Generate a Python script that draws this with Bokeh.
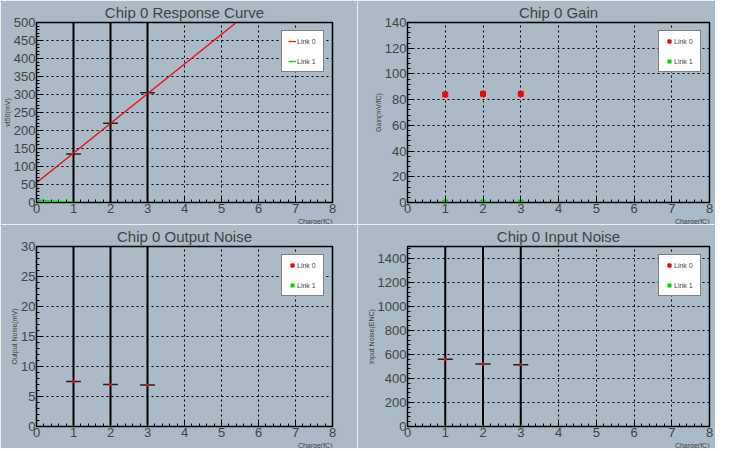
from bokeh.plotting import figure
from bokeh.layouts import gridplot
from bokeh.models import Legend, LegendItem, Range1d, FixedTicker, Title
from bokeh.embed import file_html
from bokeh.resources import INLINE

BG = "#aabac6"
charge = [1, 2, 3]
vt50 = [135, 220, 305]
fit_x = [0, 5.4]
fit_y = [55, 500]
link1_x = [0, 1.15]
link1_y = [6, 0]
gain = [84, 84.5, 84.5]
out_noise = [7.5, 7.0, 6.9]
in_noise = [560, 520, 515]
link1_zero = [0, 0, 0]
xerr = 0.2

def make(title, ylab, ymax, ystep, yticks_max, bl, br, w):
    p = figure(width=w, height=224, output_backend="svg", toolbar_location=None,
               x_range=Range1d(0, 8), y_range=Range1d(0, ymax),
               background_fill_color=BG, border_fill_color=BG,
               min_border_left=bl, min_border_right=br, min_border_top=4, min_border_bottom=14)
    p.title.text = title
    p.title.align = "center"
    p.title.text_font = "Liberation Sans"
    p.title.text_font_size = "15px"
    p.title.text_font_style = "normal"
    p.title.standoff = 3
    p.outline_line_color = "black"
    p.outline_line_width = 1.5
    for ax in (p.xaxis[0], p.yaxis[0]):
        ax.major_label_text_font = "Liberation Sans"
        ax.major_label_text_font_size = "13px"
        ax.major_tick_in = 6
        ax.major_tick_out = 0
        ax.minor_tick_in = 3
        ax.minor_tick_out = 0
        ax.axis_line_color = "black"
        ax.axis_label_text_font = "Liberation Sans"
        ax.axis_label_text_font_size = "7px"
        ax.axis_label_text_font_style = "normal"
        ax.major_label_standoff = 1
        ax.axis_label_standoff = 0
    p.xaxis[0].ticker = FixedTicker(ticks=list(range(0, 9)), minor_ticks=[i * 0.2 for i in range(41)])
    p.yaxis[0].ticker = FixedTicker(ticks=list(range(0, yticks_max + 1, ystep)),
                                    minor_ticks=[i * ystep / 5 for i in range(int(ymax / ystep * 5) + 1)])
    p.xaxis[0].axis_label = None
    p.yaxis[0].axis_label = ylab
    p.xgrid.grid_line_color = "black"
    p.ygrid.grid_line_color = "black"
    p.xgrid.grid_line_dash = "2 3"
    p.ygrid.grid_line_dash = "2 3"
    p.add_layout(Title(text="Charge(fC)", align="right", text_font_size="7px",
                       text_font="Liberation Sans", text_font_style="normal", standoff=0), "below")
    return p

def legend(p, r0, r1):
    lg = Legend(items=[LegendItem(label="Link 0", renderers=[r0]), LegendItem(label="Link 1", renderers=[r1])],
                location="top_right", label_text_font_size="7px", label_text_font="Liberation Sans",
                background_fill_color="white", background_fill_alpha=1, border_line_color="black",
                border_line_width=1.5, spacing=12, glyph_width=8, glyph_height=8, label_standoff=1,
                padding=6, margin=8, label_height=8)
    p.add_layout(lg)

def errbars(p, ys):
    p.segment(x0=charge, x1=charge, y0=[-1e6] * 3, y1=[1e6] * 3, color="black", line_width=2)
    p.segment(x0=[c - xerr for c in charge], x1=[c + xerr for c in charge], y0=ys, y1=ys,
              color="#222222", line_width=1.5)

p1 = make("Chip 0 Response Curve", "vt50(mV)", 500, 50, 500, 30, 25, 357)
errbars(p1, vt50)
r0 = p1.line(fit_x, fit_y, color="red", line_width=1.2)
r1 = p1.line(link1_x, link1_y, color="#00e000", line_width=1.5)
p1.scatter(charge, link1_zero, color="blue", size=2)
legend(p1, r0, r1)

p2 = make("Chip 0 Gain", "Gain(mV/fC)", 140, 20, 140, 38, 6, 358)
r0 = p2.scatter(charge, gain, marker="square", color="red", size=5)
r1 = p2.scatter(charge, link1_zero, marker="square", color="#00e000", size=5)
legend(p2, r0, r1)

p3 = make("Chip 0 Output Noise", "Output Noise(mV)", 30, 5, 30, 30, 25, 357)
errbars(p3, out_noise)
r0 = p3.scatter(charge, out_noise, marker="square", color="red", size=2)
r1 = p3.scatter(charge, link1_zero, marker="square", color="#00e000", size=2)
legend(p3, r0, r1)

p4 = make("Chip 0 Input Noise", "Input Noise(ENC)", 1500, 200, 1400, 50, 6, 358)
errbars(p4, in_noise)
r0 = p4.scatter(charge, in_noise, marker="square", color="red", size=2)
r1 = p4.scatter(charge, link1_zero, marker="square", color="#00e000", size=2)
legend(p4, r0, r1)

g = gridplot([[p1, p2], [p3, p4]], toolbar_location=None)
g.spacing = 0
open("out.html", "w").write(file_html(g, INLINE))
